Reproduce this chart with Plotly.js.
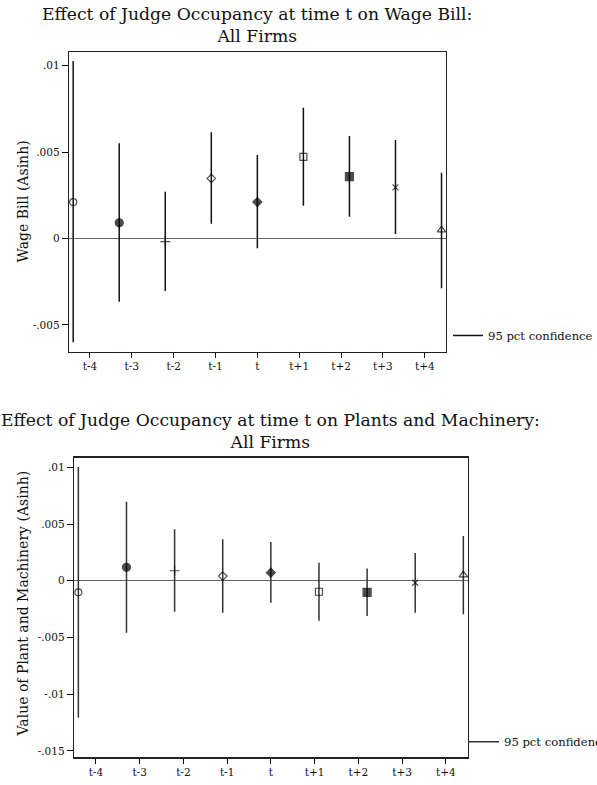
<!DOCTYPE html>
<html>
<head>
<meta charset="utf-8">
<script src="https://cdn.plot.ly/plotly-3.0.1.min.js"></script>
<style>
  html, body { margin: 0; padding: 0; background: #fff; overflow: hidden; width: 597px; height: 785px; }
  #chart { width: 597px; height: 785px; overflow: hidden; }
</style>
</head>
<body>
<div id="chart"></div>
<script>
// Event-time periods and their tick positions on the x axis
const periods = ['t-4', 't-3', 't-2', 't-1', 't', 't+1', 't+2', 't+3', 't+4'];
const tickPos = [1, 2, 3, 4, 5, 6, 7, 8, 9];
// Coefficients are plotted slightly spread around the ticks
const coefPos = [0.6, 1.7, 2.8, 3.9, 5.0, 6.1, 7.2, 8.3, 9.4];

// One marker symbol per period
const symbols = ['circle-open', 'circle', 'cross-thin-open', 'diamond-open', 'diamond',
                 'square-open', 'square', 'x-thin-open', 'triangle-up-open'];
const symbolSizes = [7, 8, 7, 6.5, 7, 7, 8, 6, 7.5];

// Wage bill (asinh): point estimates and 95% confidence bounds
const wageCoef = [0.00211, 0.00091, -0.00018, 0.00348, 0.00211, 0.00473, 0.00358, 0.00296, 0.00049];
const wageLo   = [-0.00601, -0.00366, -0.00304, 0.00086, -0.00057, 0.00190, 0.00126, 0.00026, -0.00288];
const wageHi   = [0.01027, 0.00551, 0.00271, 0.00615, 0.00483, 0.00757, 0.00593, 0.00570, 0.00381];
const wageTickVals = [-0.005, 0, 0.005, 0.01];
const wageTickText = ['-.005', '0', '.005', '.01'];

// Value of plant and machinery (asinh): point estimates and 95% confidence bounds
const plantCoef = [-0.00102, 0.00118, 0.00088, 0.00041, 0.00071, -0.00097, -0.00102, -0.00018, 0.00050];
const plantLo   = [-0.01205, -0.00458, -0.00273, -0.00282, -0.00194, -0.00353, -0.00311, -0.00282, -0.00296];
const plantHi   = [0.01005, 0.00697, 0.00453, 0.00365, 0.00341, 0.00159, 0.00109, 0.00244, 0.00394];
const plantTickVals = [-0.015, -0.01, -0.005, 0, 0.005, 0.01];
const plantTickText = ['-.015', '-.01', '-.005', '0', '.005', '.01'];

const FONT = 'DejaVu Serif, serif';
const W = 597, H = 785;
const px = v => v / W;          // horizontal pixel -> paper fraction
const py = v => 1 - v / H;      // vertical pixel (from top) -> paper fraction

// Vertical CI segments, separated by gaps
function ciSegments(pos, lo, hi) {
  const xs = [], ys = [];
  pos.forEach((p, i) => { xs.push(p, p, null); ys.push(lo[i], hi[i], null); });
  return { xs, ys };
}

function panelTraces(coef, lo, hi, xa, ya, legendName, lineColor) {
  const seg = ciSegments(coefPos, lo, hi);
  return [
    {
      type: 'scatter', mode: 'lines', x: seg.xs, y: seg.ys,
      xaxis: xa, yaxis: ya, name: '95 pct confidence', legend: legendName,
      line: { color: lineColor, width: 1.5 }, connectgaps: false,
      hoverinfo: 'skip', cliponaxis: false
    },
    {
      type: 'scatter', mode: 'markers', x: coefPos, y: coef,
      xaxis: xa, yaxis: ya, showlegend: false, cliponaxis: false,
      marker: {
        symbol: symbols, size: symbolSizes, color: '#000',
        line: { color: '#000', width: 1.2 }
      }
    }
  ];
}

const data = [
  ...panelTraces(wageCoef, wageLo, wageHi, 'x', 'y', 'legend', '#111'),
  ...panelTraces(plantCoef, plantLo, plantHi, 'x2', 'y2', 'legend2', '#333')
];

const xAxisBase = {
  range: [0.5, 9.5], tickvals: tickPos, ticktext: periods,
  ticks: 'outside', ticklen: 5, tickwidth: 1, tickcolor: '#000',
  showline: true, mirror: true, linecolor: '#222', linewidth: 1.3,
  showgrid: false, zeroline: false, fixedrange: true,
  tickfont: { family: FONT, size: 10.5, color: '#111' }
};
const yAxisBase = {
  ticks: 'outside', ticklen: 6, tickwidth: 1, tickcolor: '#000',
  showline: true, mirror: true, linecolor: '#222', linewidth: 1.3,
  showgrid: false, zeroline: true, zerolinecolor: '#666', zerolinewidth: 1.2,
  fixedrange: true, tickfont: { family: FONT, size: 10.5, color: '#111' }
};

const titleFont = { family: FONT, size: 17.2, color: '#111' };
const axisTitleFont = { family: FONT, size: 14, color: '#111' };

const layout = {
  width: W, height: H,
  margin: { l: 0, r: 0, t: 0, b: 0, autoexpand: false },
  paper_bgcolor: '#fff', plot_bgcolor: '#fff',
  showlegend: true,
  xaxis:  { ...xAxisBase, domain: [px(69), px(445.7)], anchor: 'y' },
  yaxis:  { ...yAxisBase, domain: [py(351.5), py(52.3)], anchor: 'x',
            range: [-0.00654, 0.01078], tickvals: wageTickVals, ticktext: wageTickText },
  xaxis2: { ...xAxisBase, domain: [px(74), px(467.7)], anchor: 'y2' },
  yaxis2: { ...yAxisBase, domain: [py(757.3), py(457.7)], anchor: 'x2',
            range: [-0.01557, 0.01085], tickvals: plantTickVals, ticktext: plantTickText },
  legend: {
    x: px(448), y: py(335.5), xanchor: 'left', yanchor: 'middle',
    bgcolor: 'rgba(0,0,0,0)', borderwidth: 0,
    font: { family: FONT, size: 11.6, color: '#111' }
  },
  legend2: {
    x: px(464), y: py(741.7), xanchor: 'left', yanchor: 'middle',
    bgcolor: 'rgba(0,0,0,0)', borderwidth: 0,
    font: { family: FONT, size: 11.6, color: '#111' }
  },
  annotations: [
    { text: 'Effect of Judge Occupancy at time t on Wage Bill:<br>All Firms', x: px(257.3), y: py(25),
      xref: 'paper', yref: 'paper', xanchor: 'center', yanchor: 'middle', showarrow: false, font: titleFont },
    { text: 'Effect of Judge Occupancy at time t on Plants and Machinery:<br>All Firms', x: px(270.8), y: py(430.5),
      xref: 'paper', yref: 'paper', xanchor: 'center', yanchor: 'middle', showarrow: false, font: titleFont },
    { text: 'Wage Bill (Asinh)', x: px(22), y: py(201.5), textangle: -90,
      xref: 'paper', yref: 'paper', xanchor: 'center', yanchor: 'middle', showarrow: false, font: axisTitleFont },
    { text: 'Value of Plant and Machinery (Asinh)', x: px(22), y: py(603.5), textangle: -90,
      xref: 'paper', yref: 'paper', xanchor: 'center', yanchor: 'middle', showarrow: false, font: axisTitleFont }
  ]
};

Plotly.newPlot('chart', data, layout, { displayModeBar: false, staticPlot: true });
</script>
</body>
</html>
